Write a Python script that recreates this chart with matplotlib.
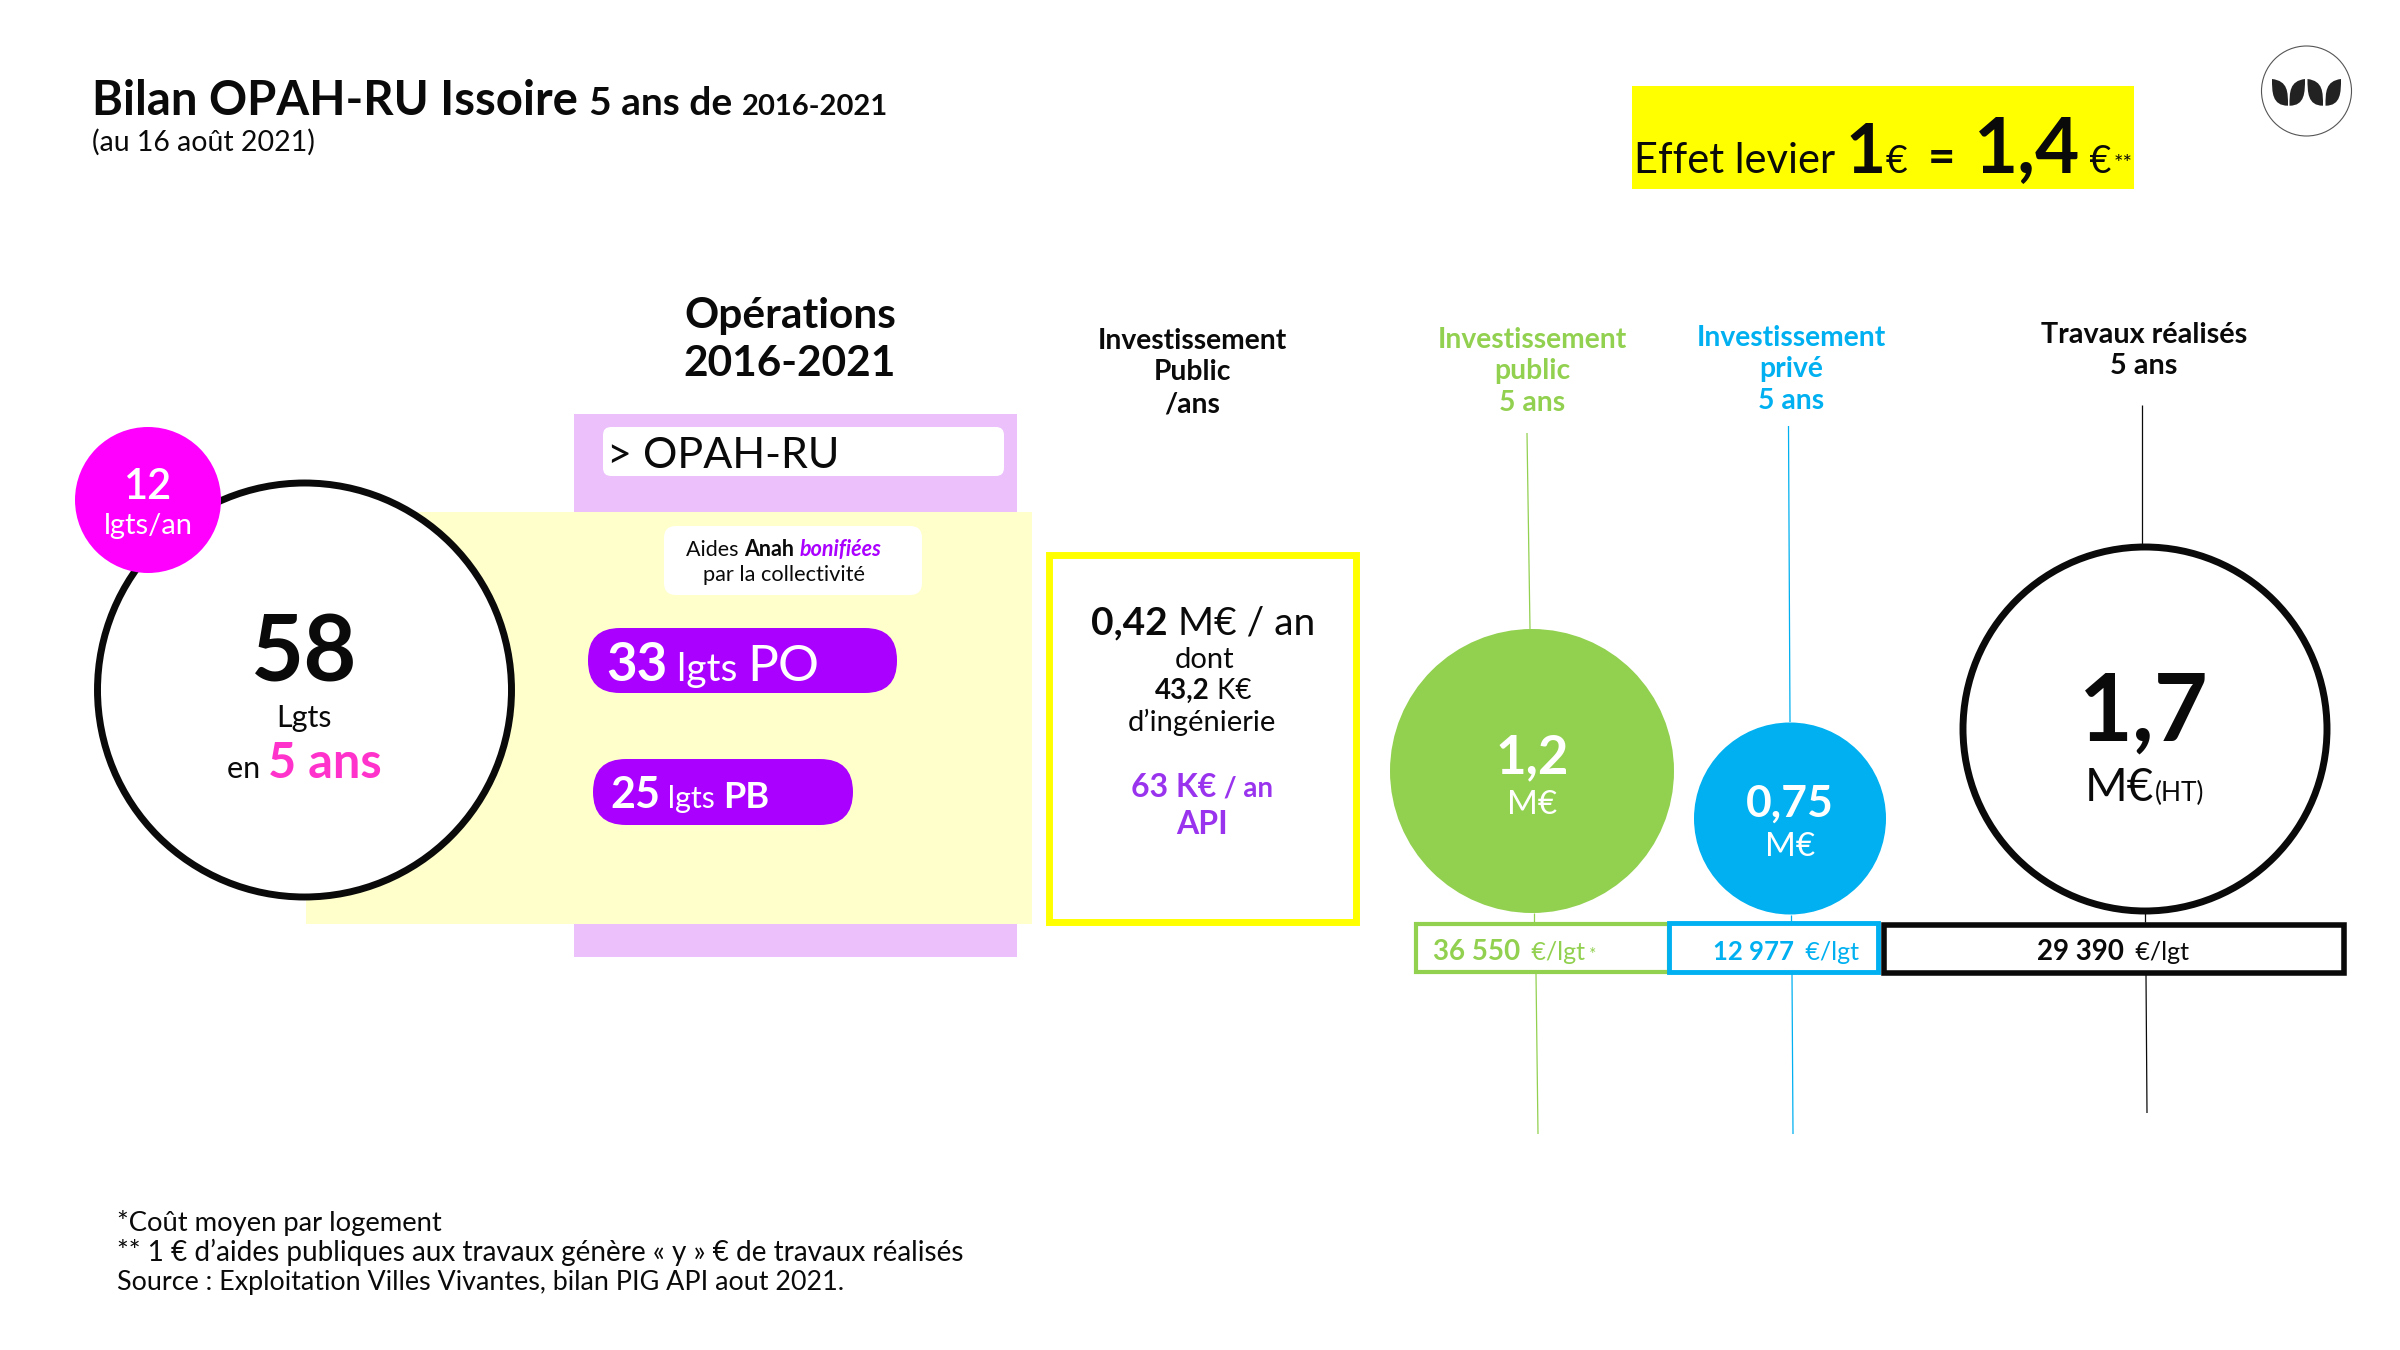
import matplotlib
matplotlib.use('agg')
import matplotlib.pyplot as plt
from matplotlib.patches import Circle, FancyBboxPatch, Rectangle, PathPatch
from matplotlib.path import Path

FONT = 'Lato'
BLACK = '#0a0a0a'
GREEN = '#92D050'
BLUE = '#00B0F0'
VIOLET = '#AA00FF'
MAUVE = '#9933EE'
PINK = '#FF33CC'
MAGENTA = '#FF00FF'
MEDIUM = 'semibold'

# figures
logements = '58'
logements_an = '12'
lgts_po = '33'
lgts_pb = '25'
invest_an = '0,42'
ingenierie = '43,2'
api_an = '63'
invest_public = '1,2'
invest_prive = '0,75'
travaux = '1,7'
cout_public = '36 550'
cout_prive = '12 977'
cout_travaux = '29 390'
levier = ['1', '1,4']
footnotes = [
    '*Coût moyen par logement',
    '** 1 € d’aides publiques aux travaux génère « y » € de travaux réalisés',
    'Source : Exploitation Villes Vivantes, bilan PIG API aout 2021.',
]

fig = plt.figure(figsize=(24, 13.5), dpi=100)
ax = fig.add_axes([0, 0, 1, 1])
ax.set_xlim(0, 2400)
ax.set_ylim(1350, 0)
ax.axis('off')


def box(x0, y0, x1, y1, color, radius=0, z=1):
    if radius:
        p = FancyBboxPatch((x0 + radius, y0 + radius), x1 - x0 - 2 * radius, y1 - y0 - 2 * radius,
                           boxstyle=f'round,pad={radius},rounding_size={radius}',
                           fc=color, ec='none', zorder=z)
    else:
        p = Rectangle((x0, y0), x1 - x0, y1 - y0, fc=color, ec='none', zorder=z)
    ax.add_patch(p)


def frame(x0, y0, x1, y1, color, lw):
    ax.add_patch(Rectangle((x0, y0), x1 - x0, y1 - y0, fc='white', ec=color, lw=lw, zorder=3))


def line(x0, y0, x1, y1, color):
    ax.plot([x0, x1], [y0, y1], color=color, lw=0.9, zorder=2, solid_capstyle='butt')


def label(x, y, s, size, color=BLACK, weight='normal', ha='center', style='normal'):
    # y is the baseline measured on the reference, Lato sits about 2 px higher
    return ax.text(x, y + 2, s, fontsize=size, color=color, weight=weight, ha=ha, va='baseline',
                   style=style, family=FONT, zorder=6)


def runs(x, y, parts, ha='left'):
    # parts are (text, size, weight, color) written one after the other on the same baseline
    renderer = fig.canvas.get_renderer()
    items = []
    for part in parts:
        s, size, weight, color = part[:4]
        style = part[4] if len(part) > 4 else 'normal'
        t = label(0, y, s.replace(' ', '\u00a0'), size, color, weight, 'left', style)
        items.append((t, t.get_window_extent(renderer).width))
    total = sum(w for _, w in items)
    if ha == 'center':
        x = x - total / 2
    for t, w in items:
        t.set_x(x)
        x += w


# background blocks
box(574, 414, 1017, 957, '#EBC0FB', z=1)
box(306, 512, 1032, 924, '#FFFFCC', z=1.5)
box(603, 427, 1004, 476, 'white', radius=8, z=2)
box(664, 526, 922, 595, 'white', radius=12, z=2)
box(588, 628, 897, 693, VIOLET, radius=32, z=2)
box(593, 759, 853, 825, VIOLET, radius=33, z=2)
box(1632, 86, 2134, 189, '#FFFF00', z=1)

# guide lines behind the bubbles
line(1527, 433, 1530, 629, GREEN)
line(1534, 913, 1534, 922, GREEN)
line(1536, 974, 1538, 1134, GREEN)
line(1788.5, 426, 1790, 722, BLUE)
line(1791, 915, 1791, 921, BLUE)
line(1792, 974, 1793, 1134, BLUE)
line(2142, 405, 2142, 545, BLACK)
line(2145, 913, 2145, 922, BLACK)
line(2146, 975, 2147, 1113, BLACK)

# bubbles
ax.add_patch(Circle((304.5, 690), 207, fc='white', ec=BLACK, lw=5, zorder=3))
ax.add_patch(Circle((148, 500), 73, fc=MAGENTA, ec='none', zorder=4))
ax.add_patch(Circle((1532, 771), 142, fc=GREEN, ec='none', zorder=3))
ax.add_patch(Circle((1790, 818.5), 96, fc=BLUE, ec='none', zorder=3))
ax.add_patch(Circle((2145, 729), 182, fc='white', ec=BLACK, lw=5, zorder=3))

# cost frames and investment frame
frame(1048.5, 555, 1356, 922, '#FFFF00', 5)
frame(1416, 924, 1669, 972, GREEN, 3)
frame(1669, 923, 1878, 972, BLUE, 3.5)
frame(1884, 925, 2344, 973, BLACK, 4)

# logo, four leaves pointing top corner to bottom corner
ax.add_patch(Circle((2306.5, 91), 45, fc='white', ec='#555555', lw=0.8, zorder=3))
for x0, x1 in [(2272, 2288), (2305, 2289.5), (2307.5, 2323), (2341, 2325.5)]:
    leaf = Path([(x0, 79), (x1, 81), (x1, 92), (x1, 105.7), (x0, 105.7), (x0, 92), (x0, 79)],
                [Path.MOVETO, Path.CURVE4, Path.CURVE4, Path.CURVE4, Path.CURVE4, Path.CURVE4, Path.CURVE4])
    ax.add_patch(PathPatch(leaf, fc='#222222', ec='none', zorder=4))

# title block
runs(92, 113, [('Bilan OPAH-RU Issoire', 34, 'bold', BLACK), ('  ', 17, 'bold', BLACK), ('5 ans de ', 28, 'bold', BLACK),
               ('2016-2021', 21, 'bold', BLACK)])
label(92, 149, '(au 16 août 2021)', 20.5, ha='left')

# leverage banner
runs(1634, 171, [('Effet levier ', 30, 'normal', BLACK), (levier[0], 50, 'bold', BLACK), ('€', 27, 'normal', BLACK)])
label(1941, 171, '=', 34, weight='bold')
runs(1974, 171, [(levier[1], 55, 'bold', BLACK), (' €', 27, 'normal', BLACK)])
label(2114, 168, '**', 16, ha='left')

# column headers
label(790, 326, 'Opérations', 30.5, weight='bold')
label(790, 374, '2016-2021', 30.5, weight='bold')
for y, s in zip([347, 378, 410], ['Investissement', 'Public', '/ans']):
    label(1192, y, s, 20.3, weight='bold')
for y, s in zip([346, 377, 409], ['Investissement', 'public', '5 ans']):
    label(1532, y, s, 20.3, GREEN, 'bold')
for y, s in zip([344, 375, 407], ['Investissement', 'privé', '5 ans']):
    label(1791, y, s, 20.3, BLUE, 'bold')
for y, s in zip([341, 372], ['Travaux réalisés', '5 ans']):
    label(2144, y, s, 20.7, weight='bold')

# housing bubble
label(148, 497, logements_an, 30, 'white', MEDIUM)
label(148, 532, 'lgts/an', 21, 'white')
label(304, 680, logements, 66, weight='bold')
label(304, 725, 'Lgts', 22)
runs(304, 776, [('en ', 22, 'normal', BLACK), ('5 ans', 35, 'bold', PINK)], ha='center')

# operations column
label(607, 466, '> OPAH-RU', 31, ha='left')
runs(784, 554, [('Aides ', 15.5, 'normal', BLACK), ('Anah ', 15.5, 'bold', BLACK),
                ('bonifiées', 15.5, 'bold', VIOLET, 'italic')], ha='center')
label(784, 579, 'par la collectivité', 15.7)
runs(606, 679, [(lgts_po, 38, 'bold', 'white'), (' lgts ', 28, 'normal', 'white'), ('PO', 37, 'normal', 'white')])
runs(610, 806, [(lgts_pb, 31, 'bold', 'white'), (' lgts ', 22, 'normal', 'white'), ('PB', 26, 'bold', 'white')])

# investment frame text
runs(1203, 632, [(invest_an, 28, 'bold', BLACK), (' M€ / an', 28, 'normal', BLACK)], ha='center')
label(1205, 666, 'dont', 21)
runs(1203, 697, [(ingenierie, 20, 'bold', BLACK), (' K€', 20, 'normal', BLACK)], ha='center')
label(1202, 729, 'd’ingénierie', 21)
runs(1202, 795, [(api_an + ' K€', 23, 'bold', MAUVE), (' / an', 20, 'bold', MAUVE)], ha='center')
label(1202, 832, 'API', 23, MAUVE, 'bold')

# investment bubbles
label(1532, 771, invest_public, 38, 'white', 'bold')
label(1532, 812, 'M€', 24, 'white')
label(1790, 815, invest_prive, 32, 'white', 'bold')
label(1790, 854, 'M€', 24, 'white')
label(2144, 738, travaux, 67, weight='bold')
runs(2085, 799, [('M€', 33, 'normal', BLACK), ('(HT)', 19, 'normal', BLACK)])

# cost per dwelling
runs(1433, 958, [(cout_public, 20, 'bold', GREEN), (' ', 14, 'normal', GREEN), (' €/lgt', 18, 'normal', GREEN), (' *', 12, 'normal', GREEN)])
runs(1713, 958, [(cout_prive, 18.5, 'bold', BLUE), (' ', 14, 'normal', BLUE), (' €/lgt', 18, 'normal', BLUE)])
runs(2037, 958, [(cout_travaux, 20, 'bold', BLACK), (' ', 14, 'normal', BLACK), (' €/lgt', 18, 'normal', BLACK)])

# footnotes
for y, s, size in zip([1229, 1259, 1288], footnotes, [19.7, 20.1, 19.4]):
    label(117, y, s, size, ha='left')

fig.savefig('out.png', dpi=100)
